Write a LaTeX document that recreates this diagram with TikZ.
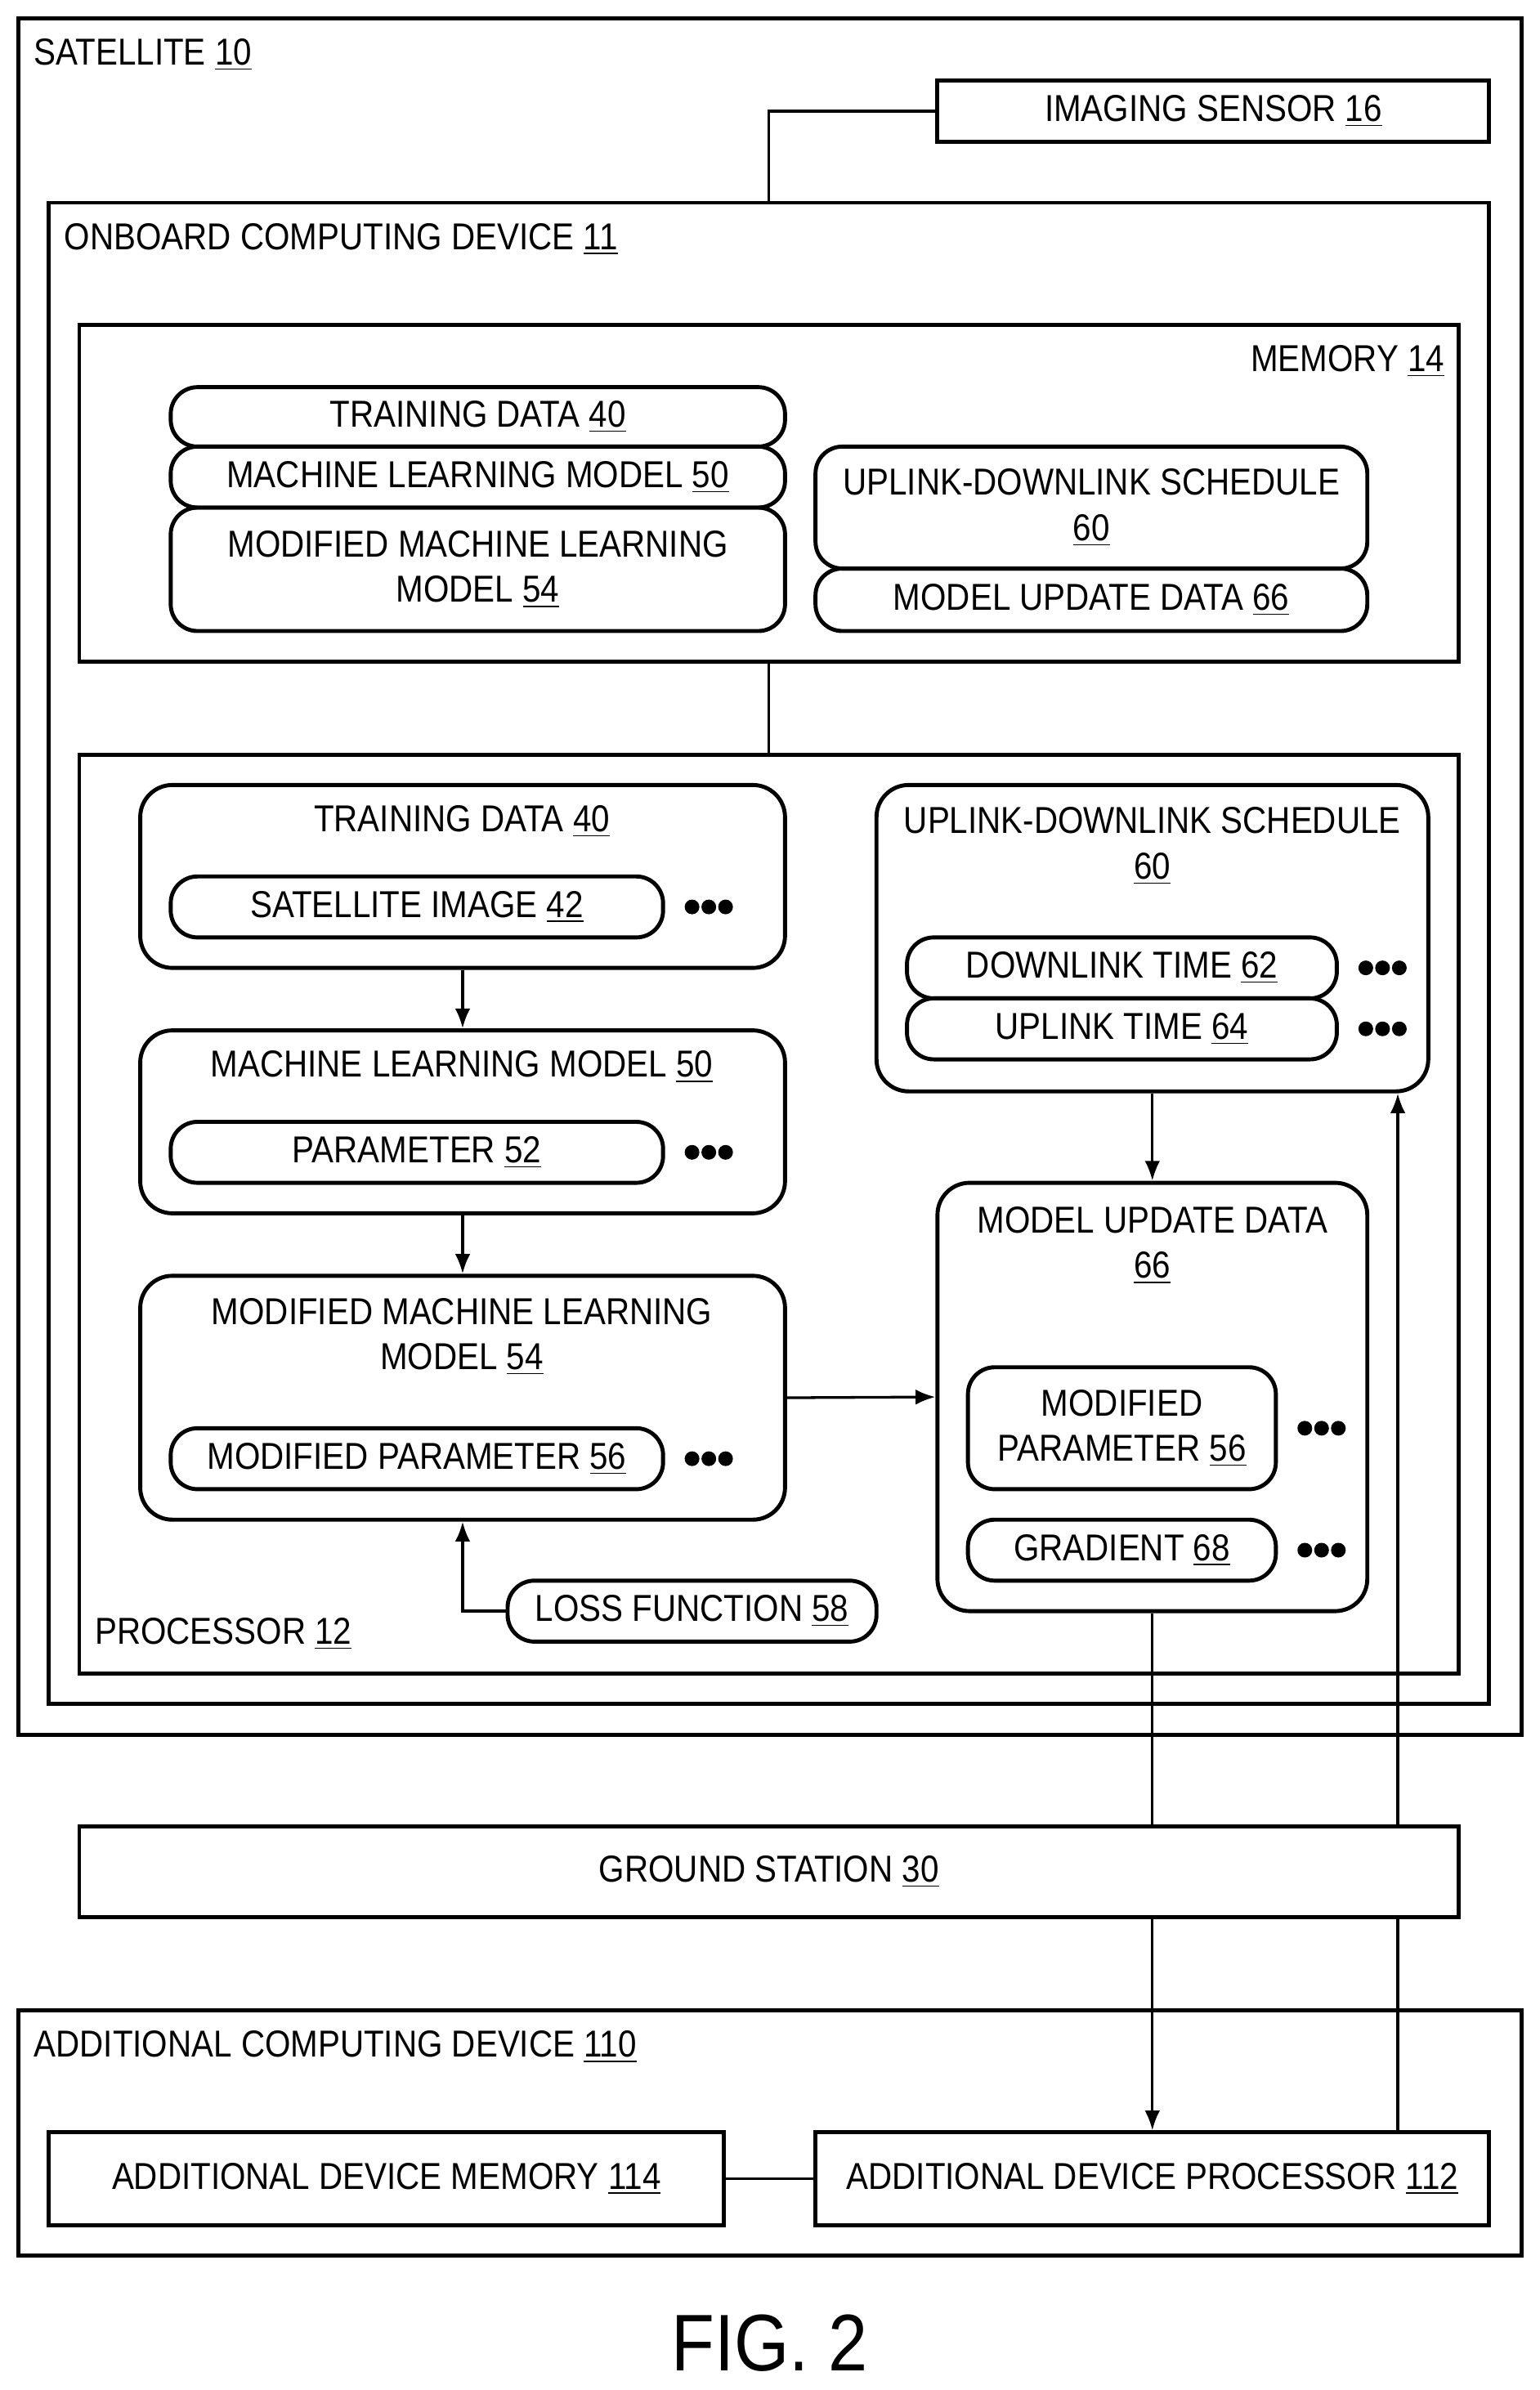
\documentclass[tikz,border=0pt]{standalone}
\usepackage{fontspec}
\setmainfont{Liberation Sans}[FakeStretch=0.88]
\usetikzlibrary{positioning,fit,arrows.meta}
\newcommand{\ul}[1]{\underline{#1}}
\begin{document}
\fontsize{14}{17}\selectfont
\begin{tikzpicture}[
    x=0.02cm, y=-0.02cm,
    box/.style={draw, line width=1.5pt, inner sep=0pt},
    rbox/.style={box, rounded corners=12pt},
    pill/.style={box, rounded corners=10pt, align=center},
    lbl/.style={inner sep=0pt, anchor=west},
    dot/.style={circle, fill, inner sep=0pt, minimum size=5.5pt},
    arr/.style={line width=1pt, -{Latex[length=2.6mm,width=2mm]}},
    ln/.style={line width=1pt}
]
  \useasboundingbox (0,0) rectangle (1010,1568);

  % outer boxes
  \node[box, fit={(12,12) (998,1138)}] (sat) {};
  \node[lbl] at (22,36) {SATELLITE \ul{10}};
  \node[box, fit={(615,53) (977,93)}] (sensor) {};
  \node at (sensor) {IMAGING SENSOR \ul{16}};
  \node[box, fit={(32,133) (977,1118)}] (onb) {};
  \node[lbl] at (42,157) {ONBOARD COMPUTING DEVICE \ul{11}};

  % memory
  \node[box, fit={(52,213) (957,434)}] (mem) {};
  \node[inner sep=0pt, anchor=east] at (948,237) {MEMORY \ul{14}};
  \node[pill, fit={(112,254) (515,293)}] (mtd) {};
  \node at (mtd) {TRAINING DATA \ul{40}};
  \node[pill, fit={(112,293) (515,333)}] (mmlm) {};
  \node at (mmlm) {MACHINE LEARNING MODEL \ul{50}};
  \node[pill, fit={(112,333) (515,414)}] (mmod) {};
  \node[align=center] at (mmod) {MODIFIED MACHINE LEARNING\\MODEL \ul{54}};
  \node[pill, fit={(535,293) (897,373)}] (mul) {};
  \node[align=center] at (mul) {UPLINK-DOWNLINK SCHEDULE\\\ul{60}};
  \node[pill, fit={(535,373) (897,414)}] (mmud) {};
  \node at (mmud) {MODEL UPDATE DATA \ul{66}};

  % processor
  \node[box, fit={(52,495) (957,1098)}] (proc) {};
  \node[lbl] at (62,1072) {PROCESSOR \ul{12}};

  \node[rbox, fit={(92,515) (515,635)}] (td) {};
  \node at (303,539) {TRAINING DATA \ul{40}};
  \node[pill, fit={(112,575) (435,615)}] (img) {};
  \node at (img) {SATELLITE IMAGE \ul{42}};

  \node[rbox, fit={(92,676) (515,796)}] (mlm) {};
  \node at (303,700) {MACHINE LEARNING MODEL \ul{50}};
  \node[pill, fit={(112,736) (435,776)}] (par) {};
  \node at (par) {PARAMETER \ul{52}};

  \node[rbox, fit={(92,837) (515,997)}] (mod) {};
  \node[align=center] at (303,877) {MODIFIED MACHINE LEARNING\\MODEL \ul{54}};
  \node[pill, fit={(112,937) (435,977)}] (mpar) {};
  \node at (mpar) {MODIFIED PARAMETER \ul{56}};

  \node[pill, fit={(333,1037) (575,1077)}] (loss) {};
  \node at (loss) {LOSS FUNCTION \ul{58}};

  \node[rbox, fit={(575,515) (937,716)}] (ul) {};
  \node[align=center] at (756,555) {UPLINK-DOWNLINK SCHEDULE\\\ul{60}};
  \node[pill, fit={(595,615) (877,655)}] (dlt) {};
  \node at (dlt) {DOWNLINK TIME \ul{62}};
  \node[pill, fit={(595,655) (877,695)}] (ult) {};
  \node at (ult) {UPLINK TIME \ul{64}};

  \node[rbox, fit={(615,776) (897,1057)}] (mud) {};
  \node[align=center] at (756,817) {MODEL UPDATE DATA\\\ul{66}};
  \node[pill, fit={(635,897) (837,977)}] (mp2) {};
  \node[align=center] at (mp2) {MODIFIED\\PARAMETER \ul{56}};
  \node[pill, fit={(635,997) (837,1037)}] (grad) {};
  \node at (grad) {GRADIENT \ul{68}};

  % ellipsis dots
  \foreach \x/\y in {465/595, 465/756, 465/957, 907/635, 907/675, 867/937, 867/1017}
    \foreach \d in {-11,0,11}
      \node[dot] at (\x+\d,\y) {};

  % ground and additional device
  \node[box, fit={(52,1198) (957,1258)}] (gs) {};
  \node at (gs) {GROUND STATION \ul{30}};
  \node[box, fit={(12,1319) (998,1480)}] (add) {};
  \node[lbl] at (22,1343) {ADDITIONAL COMPUTING DEVICE \ul{110}};
  \node[box, fit={(32,1399) (475,1460)}] (amem) {};
  \node at (amem) {ADDITIONAL DEVICE MEMORY \ul{114}};
  \node[box, fit={(535,1399) (977,1460)}] (aproc) {};
  \node at (aproc) {ADDITIONAL DEVICE PROCESSOR \ul{112}};
  \coordinate (up) at (917,1399);

  \node[font=\fontsize{30}{30}\selectfont] (fig) at (505,1537) {FIG. 2};

  % connectors
  \draw[ln] (sensor.west) -| (onb.north);
  \draw[ln] (mem.south) -- (proc.north);
  \draw[arr] (td.south) -- (mlm.north);
  \draw[arr] (mlm.south) -- (mod.north);
  \draw[arr] (loss.west) -| (mod.south);
  \draw[arr] (mod.east) -- (mud.west);
  \draw[arr] (ul.south) -- (mud.north);
  \draw[ln] (mud.south) -- (mud.south |- gs.north);
  \draw[arr] (aproc.north |- gs.south) -- (aproc.north);
  \draw[ln] (up) -- (up |- gs.south);
  \draw[arr] (up |- gs.north) -- (up |- ul.south);
  \draw[ln] (amem.east) -- (aproc.west);
\end{tikzpicture}
\end{document}
